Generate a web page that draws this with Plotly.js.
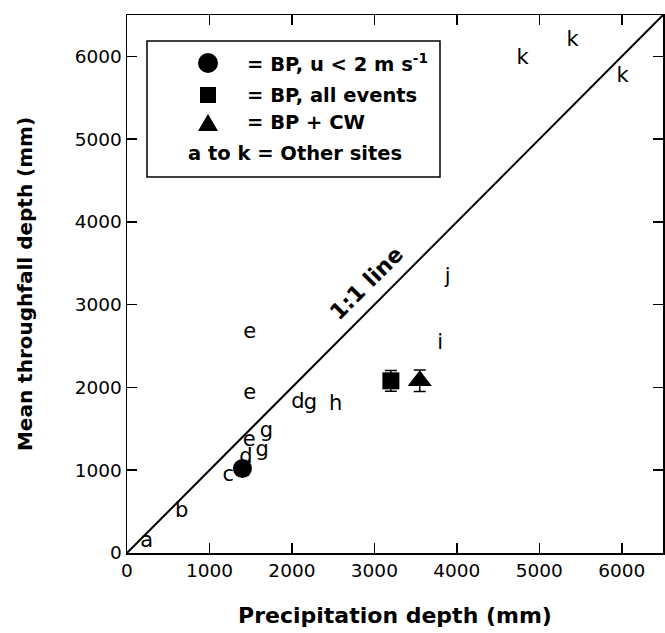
<!DOCTYPE html>
<html>
<head>
<meta charset="utf-8">
<script src="https://cdn.plot.ly/plotly-3.0.1.min.js"></script>
<style>html,body{margin:0;padding:0;background:#fff;}#chart{width:665px;height:633px;}</style>
</head>
<body>
<div id="chart"></div>
<script>
// Other sites (letters a to k)
const siteLabels = ["a","b","c","d","g","e","g","e","e","d","g","h","i","j","k","k","k"];
const siteX =      [238, 662, 1227, 1441, 1640, 1481, 1690, 1489, 1489, 2074, 2225, 2530, 3797, 3890, 4798, 5404, 6009];
const siteY =      [140, 500, 930, 1150, 1230, 1360, 1470, 1920, 2660, 1810, 1800, 1790, 2530, 3330, 5970, 6190, 5750];

// BP measurements
const bpCalmX = [1400];   const bpCalmY = [1020];
const bpAllX = [3200];    const bpAllY = [2080];   const bpAllErr = [125];
const bpCwX = [3550];     const bpCwY = [2080];    const bpCwErr = [130];

// 1:1 reference line
const oneToOneX = [0, 6500];
const oneToOneY = [0, 6500];

const tickVals = [0, 1000, 2000, 3000, 4000, 5000, 6000];
const tickText = ["0", "1000", "2000", "3000", "4000", "5000", "6000"];

const legendRows = [
  "= BP, u &lt; 2 m s<sup>-1</sup>",
  "= BP, all events",
  "= BP + CW",
  "a to k = Other sites"
];

const FONT = "DejaVu Sans, sans-serif";

const traces = [
  {x: oneToOneX, y: oneToOneY, mode: "lines", line: {color: "#000", width: 2}, showlegend: false, hoverinfo: "skip"},
  {x: siteX, y: siteY, text: siteLabels, mode: "text", textposition: "middle center",
   textfont: {family: FONT, size: 21, color: "#000"}, showlegend: false},
  {x: bpCalmX, y: bpCalmY, mode: "markers", marker: {symbol: "circle", size: 19, color: "#000"}, showlegend: false},
  {x: bpAllX, y: bpAllY, mode: "markers", marker: {symbol: "square", size: 17, color: "#000"},
   error_y: {type: "data", array: bpAllErr, visible: true, color: "#000", thickness: 1.5, width: 6}, showlegend: false},
  {x: bpCwX, y: bpCwY, mode: "markers", marker: {symbol: "triangle-up", size: 21, color: "#000"},
   error_y: {type: "data", array: bpCwErr, visible: true, color: "#000", thickness: 1.5, width: 6}, showlegend: false}
];

const L = 127, R = 663, T = 15, B = 553;
const px2x = p => (p - L) / (R - L);
const px2y = p => (B - p) / (B - T);
const rowY = [63, 95, 123, 153];
const legFont = {family: FONT, size: 19.5, color: "#000", weight: "bold"};

const annotations = [
  {x: 2900, y: 3260, xref: "x", yref: "y", text: "1:1 line", showarrow: false, textangle: -45,
   font: {family: FONT, size: 22, color: "#000", weight: "bold"}}
];
for (let i = 0; i < 3; i++) {
  annotations.push({x: px2x(245), y: px2y(rowY[i]), xref: "paper", yref: "paper", xanchor: "left", yanchor: "middle",
    text: legendRows[i], showarrow: false, font: legFont});
}
annotations.push({x: px2x(186), y: px2y(rowY[3]), xref: "paper", yref: "paper", xanchor: "left", yanchor: "middle",
  text: legendRows[3], showarrow: false, font: legFont});

const symX = px2x(208);
const shapes = [
  {type: "rect", xref: "paper", yref: "paper", x0: px2x(147), x1: px2x(440), y0: px2y(177), y1: px2y(41),
   line: {color: "#000", width: 1.5}, fillcolor: "rgba(0,0,0,0)"},
  {type: "circle", xref: "paper", yref: "paper", xsizemode: "pixel", ysizemode: "pixel", xanchor: symX, yanchor: px2y(rowY[0]),
   x0: -10, x1: 10, y0: -10, y1: 10, fillcolor: "#000", line: {width: 0}},
  {type: "rect", xref: "paper", yref: "paper", xsizemode: "pixel", ysizemode: "pixel", xanchor: symX, yanchor: px2y(rowY[1]),
   x0: -8, x1: 8, y0: -8, y1: 8, fillcolor: "#000", line: {width: 0}},
  {type: "path", xref: "paper", yref: "paper", xsizemode: "pixel", ysizemode: "pixel", xanchor: symX, yanchor: px2y(rowY[2]),
   path: "M -10 -8 L 10 -8 L 0 9 Z", fillcolor: "#000", line: {width: 0}}
];

const axisCommon = {
  range: [0, 6500], tickvals: tickVals, ticktext: tickText, ticks: "inside", ticklen: 10, tickwidth: 1.5, tickcolor: "#000",
  showline: true, linecolor: "#000", linewidth: 1.5, mirror: "ticks", showgrid: false, zeroline: false,
  tickfont: {family: FONT, size: 18.5, color: "#000"}, fixedrange: true
};

const layout = {
  width: 665, height: 633,
  margin: {l: L, r: 665 - R, t: T, b: 633 - B},
  paper_bgcolor: "#fff", plot_bgcolor: "#fff",
  showlegend: false,
  xaxis: Object.assign({}, axisCommon, {
    title: {text: "Precipitation depth (mm)", standoff: 28,
      font: {family: FONT, size: 22, color: "#000", weight: "bold"}}
  }),
  yaxis: Object.assign({}, axisCommon, {
    title: {text: "Mean throughfall depth (mm)", standoff: 36,
      font: {family: FONT, size: 20, color: "#000", weight: "bold"}}
  }),
  annotations: annotations,
  shapes: shapes
};

Plotly.newPlot("chart", traces, layout, {displayModeBar: false, staticPlot: true});
</script>
</body>
</html>
